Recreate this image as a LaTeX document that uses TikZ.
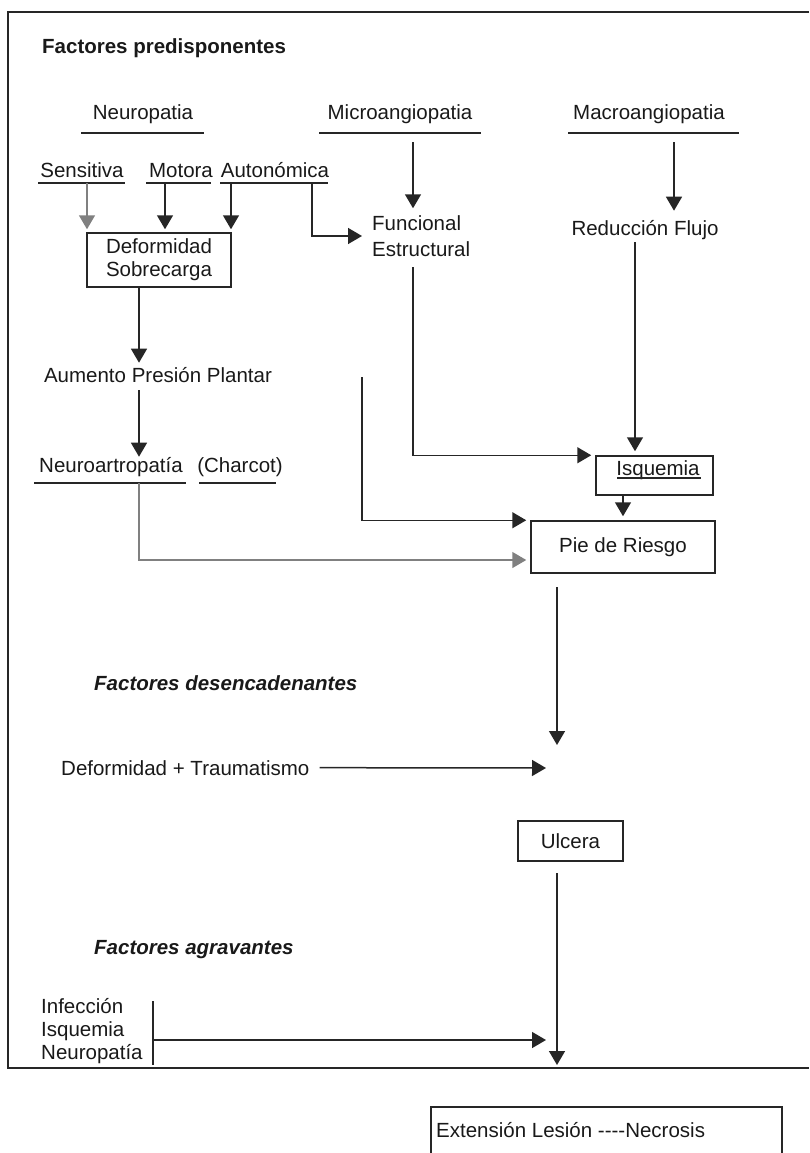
\documentclass[tikz,border=0pt]{standalone}
\usepackage{fontspec}
\setmainfont{Liberation Sans}
\usepackage{tikz}
\usetikzlibrary{arrows.meta}
\newcommand{\efont}{\fontsize{20.5}{23}\selectfont}
\tikzset{eline/.style={line width=1.5pt,draw=black!85}}
\tikzset{earrow/.style={eline,-{Triangle[width=16pt,length=14pt]}}}
\tikzset{uline/.style={line width=1.2pt,draw=black!85}}
\tikzset{etext/.style={inner sep=0pt,anchor=base,text=black!90,font=\efont}}
\tikzset{ebox/.style={draw=black!85,line width=1.5pt,inner sep=0pt,text=black!90,font=\efont}}

\begin{document}
\begin{tikzpicture}[x=1pt,y=-1pt]
    \useasboundingbox (0,0) rectangle (809,1153);
    \draw[eline,line width=1.8pt] (809,12) -| (8,1068) -- (809,1068);
    % factores predisponentes
    \node[etext,anchor=base west,font=\efont\bfseries] (fpre) at (42,54) {Factores predisponentes};
    \node[etext] (neuro) at (143,120) {Neuropatia};
    \node[etext] (micro) at (400,120) {Microangiopatia};
    \node[etext] (macro) at (649,120) {Macroangiopatia};
    \draw[uline] (81,133) -- (204,133);
    \draw[uline] (319,133) -- (481,133);
    \draw[uline] (568,133) -- (739,133);
    \node[etext] (sens) at (82,177) {Sensitiva};
    \node[etext] (motor) at (181,177) {Motora};
    \node[etext] (auton) at (275,177) {Autonómica};
    \draw[uline] (38,183) -- (125,183);
    \draw[uline] (146,183) -- (211,183);
    \draw[uline] (220,183) -- (328,183);
    \node[ebox,minimum width=144pt,minimum height=54pt,align=center] (defor) at (159,260) {Deformidad\\Sobrecarga};
    \node[etext,anchor=west,align=left,font=\fontsize{20.5}{26}\selectfont] (funest) at (372,236) {Funcional\\Estructural};
    \node[etext] (reduc) at (645,235) {Reducción Flujo};
    \node[etext] (aumento) at (158,382) {Aumento Presión Plantar};
    \node[etext] (neuroart) at (111,472) {Neuroartropatía};
    \node[etext] (charcot) at (240,472) {(Charcot)};
    \draw[uline] (34,483) -- (186,483);
    \draw[uline] (199,483) -- (276,483);
    \node[ebox,minimum width=117pt,minimum height=39pt,text height=10pt,text depth=10pt] (isq) at (654.5,475.5) {\hspace*{7pt}Isquemia};
    \draw[uline] (617,478) -- (701,478);
    \node[ebox,minimum width=184pt,minimum height=52pt] (pie) at (623,547) {Pie de Riesgo};
    % desencadenantes y agravantes
    \node[etext,anchor=base west,font=\efont\bfseries\itshape] (fdes) at (94,690) {Factores desencadenantes};
    \node[etext,anchor=base west] (deftrau) at (61,775) {Deformidad + Traumatismo};
    \node[ebox,minimum width=105pt,minimum height=40pt] (ulcera) at (570.5,841) {Ulcera};
    \node[etext,anchor=base west,font=\efont\bfseries\itshape] (fagr) at (94,954) {Factores agravantes};
    \node[etext,anchor=north west,align=left] (agrlist) at (41,998) {Infección\\Isquemia\\Neuropatía};
    \node[etext,anchor=base west] (ext) at (436,1137) {Extensión Lesión \mbox{-}\mbox{-}\mbox{-}\mbox{-}Necrosis};
    \draw[eline] (431,1170) |- (782,1107) -- (782,1170);
    % connectors
    \coordinate (sensd) at (87,183);
    \coordinate (motd) at (165,183);
    \coordinate (autd) at (231,183);
    \coordinate (autr) at (312,183);
    \draw[earrow,draw=black!50,shorten >=3pt] (sensd) -- (sensd |- defor.north);
    \draw[earrow,shorten >=3pt] (motd) -- (motd |- defor.north);
    \draw[earrow,shorten >=3pt] (autd) -- (autd |- defor.north);
    \draw[earrow,shorten >=10pt] (autr) |- (funest.west);
    \coordinate (micd) at (413,142);
    \coordinate (macd) at (674,142);
    \draw[earrow,shorten >=7pt] (micd) -- (micd |- funest.north);
    \draw[earrow,shorten >=9pt] (macd) -- (macd |- reduc.north);
    \coordinate (defd) at (139,287);
    \coordinate (aumd) at (139,390);
    \draw[earrow,shorten >=4pt] (defd) -- (defd |- aumento.north);
    \draw[earrow] (aumd) -- (aumd |- neuroart.north);
    \coordinate (nad) at (139,483);
    \draw[earrow,draw=black!50,shorten >=4pt] (nad) |- ([yshift=-13pt]pie.west);
    \coordinate (riskd) at (362,377);
    \draw[earrow,shorten >=4pt] (riskd) |- (pie.north west);
    \coordinate (fund) at (413,267);
    \coordinate (redd) at (635,242);
    \draw[earrow,shorten >=4pt] (fund) |- (isq.north west);
    \draw[earrow,shorten >=4pt] (redd) -- (redd |- isq.north);
    \draw[earrow,shorten >=4pt] (isq.south -| pie.north) -- (pie.north);
    \coordinate (pied) at (557,587);
    \coordinate (trig) at (557,745);
    \coordinate (trigl) at (546,768);
    \draw[earrow] (pied) -- (trig);
    \draw[earrow] ([xshift=10pt]deftrau.east) -- (trigl);
    \coordinate (ulcd) at (557,873);
    \coordinate (agr) at (557,1065);
    \draw[earrow] (ulcd) -- (agr);
    \coordinate (bart) at (153,1001);
    \coordinate (barb) at (153,1065);
    \coordinate (barm) at (153,1040);
    \coordinate (agrl) at (546,1040);
    \draw[eline] (bart) -- (barb);
    \draw[earrow] (barm) -- (agrl);
\end{tikzpicture}
\end{document}
